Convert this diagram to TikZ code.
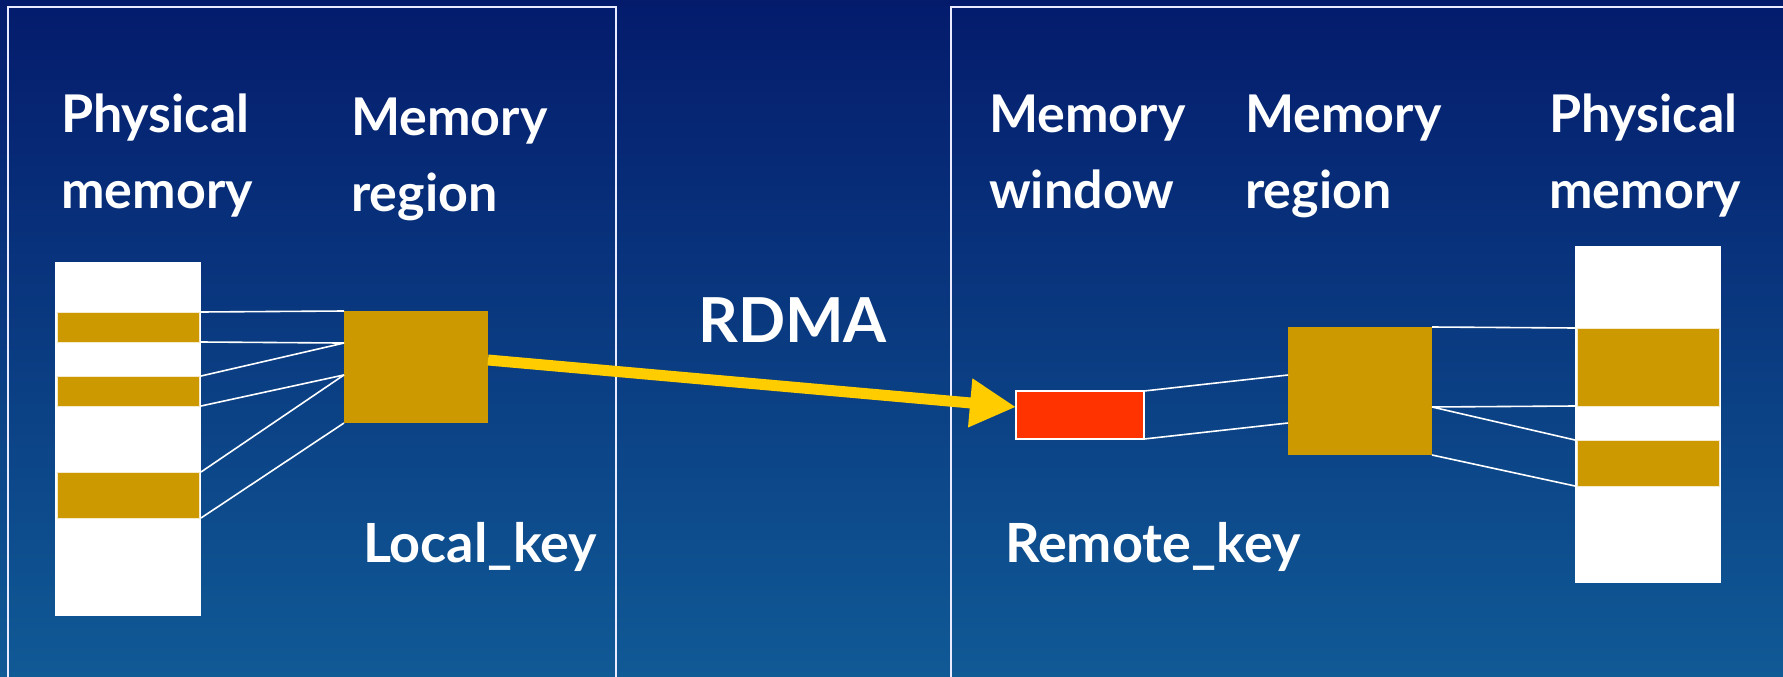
\documentclass[tikz,border=0pt]{standalone}
\usepackage{fontspec}
\setmainfont{Lato}
\usetikzlibrary{arrows.meta,calc}
\definecolor{bgtop}{RGB}{4,27,108}
\definecolor{bgbot}{RGB}{16,90,150}
\definecolor{gold}{RGB}{204,153,0}
\definecolor{winred}{RGB}{255,51,0}
\definecolor{arrowyellow}{RGB}{255,204,0}
\tikzset{
  box/.style={rectangle, inner sep=0pt, outer sep=0pt},
  membar/.style={box, fill=white},
  stripe/.style={box, fill=gold, draw=white!80!gold, line width=0.8pt},
  region/.style={box, fill=gold},
  window/.style={box, fill=winred, draw=white, line width=1.5pt},
  link/.style={draw=white, line width=1.6pt},
  frame/.style={draw=white!92!blue, line width=1.6pt},
  label/.style={anchor=base west, inner sep=0pt, text=white, align=left,
    font=\fontsize{52}{76}\selectfont\bfseries},
  keylabel/.style={anchor=base west, inner sep=0pt, text=white,
    font=\fontsize{54}{76}\selectfont\bfseries},
  biglabel/.style={anchor=base west, inner sep=0pt, text=white,
    font=\fontsize{62}{70}\selectfont\bfseries},
  rdma/.style={draw=arrowyellow, line width=11pt,
    -{Triangle[length=46pt,width=46pt]}}
}
\begin{document}
\begin{tikzpicture}[x=1pt,y=-1pt]
\useasboundingbox (0,0) rectangle (1783,677);
\clip (0,0) rectangle (1783,677);
\fill[top color=bgtop, bottom color=bgbot] (0,0) rectangle (1783,677);
% panel frames
\draw[frame] (8,690) -- (8,7) -- (616,7) -- (616,690);
\draw[frame] (951,690) -- (951,7) -- (1800,7);

% left side
\node[membar, minimum width=146, minimum height=354] (pbL) at (128,439) {};
\node[stripe, minimum width=142, minimum height=30] (s1) at (128,327) {};
\node[stripe, minimum width=142, minimum height=30] (s2) at (128,391) {};
\node[stripe, minimum width=142, minimum height=46] (s3) at (128,495) {};
\node[region, minimum width=144, minimum height=112] (mrL) at (416,367) {};
\coordinate (mrLa) at ($(mrL.north west)!0.286!(mrL.south west)$);
\coordinate (mrLb) at ($(mrL.north west)!0.571!(mrL.south west)$);
\draw[link] (pbL.east |- s1.north) -- (mrL.north west);
\draw[link] (pbL.east |- s1.south) -- (mrLa);
\draw[link] (pbL.east |- s2.north) -- (mrLa);
\draw[link] (pbL.east |- s2.south) -- (mrLb);
\draw[link] (pbL.east |- s3.north) -- (mrLb);
\draw[link] (pbL.east |- s3.south) -- (mrL.south west);

% right side
\node[window, minimum width=128, minimum height=48] (mw) at (1080,415) {};
\node[region, minimum width=144, minimum height=128] (mrR) at (1360,391) {};
\node[membar, minimum width=146, minimum height=337] (pbR) at (1648,414.5) {};
\node[stripe, minimum width=142, minimum height=78] (r1) at (1648,367) {};
\node[stripe, minimum width=142, minimum height=46] (r2) at (1648,463) {};
\coordinate (mrRa) at ($(mrR.north west)!0.375!(mrR.south west)$);
\coordinate (mrRb) at ($(mrR.north west)!0.75!(mrR.south west)$);
\coordinate (mrRc) at ($(mrR.north east)!0.625!(mrR.south east)$);
\draw[link] (mw.north east) -- (mrRa);
\draw[link] (mw.south east) -- (mrRb);
\draw[link] (mrR.north east) -- (pbR.west |- r1.north);
\draw[link] (mrRc) -- (pbR.west |- r1.south);
\draw[link] (mrRc) -- (pbR.west |- r2.north);
\draw[link] (mrR.south east) -- (pbR.west |- r2.south);

% RDMA arrow
\coordinate (aS) at ($(mrL.east)+(0,-7)$);
\coordinate (aE) at ($(mw.west)+(0,-8)$);
\draw[rdma] (aS) -- (aE);

% labels (base anchor = baseline of the last line)
\node[label] (tPL) at (61,208) {Physical\\memory};
\node[label] (tMRL) at (351,211) {Memory\\region};
\node[label] (tMW) at (989,208) {Memory\\window};
\node[label] (tMRR) at (1245,208) {Memory\\region};
\node[label] (tPR) at (1549,208) {Physical\\memory};
\node[biglabel] (tRDMA) at (698,342) {RDMA};
\node[keylabel] (tLK) at (363,562) {Local\_key};
\node[keylabel] (tRK) at (1005,562) {Remote\_key};
\end{tikzpicture}
\end{document}
